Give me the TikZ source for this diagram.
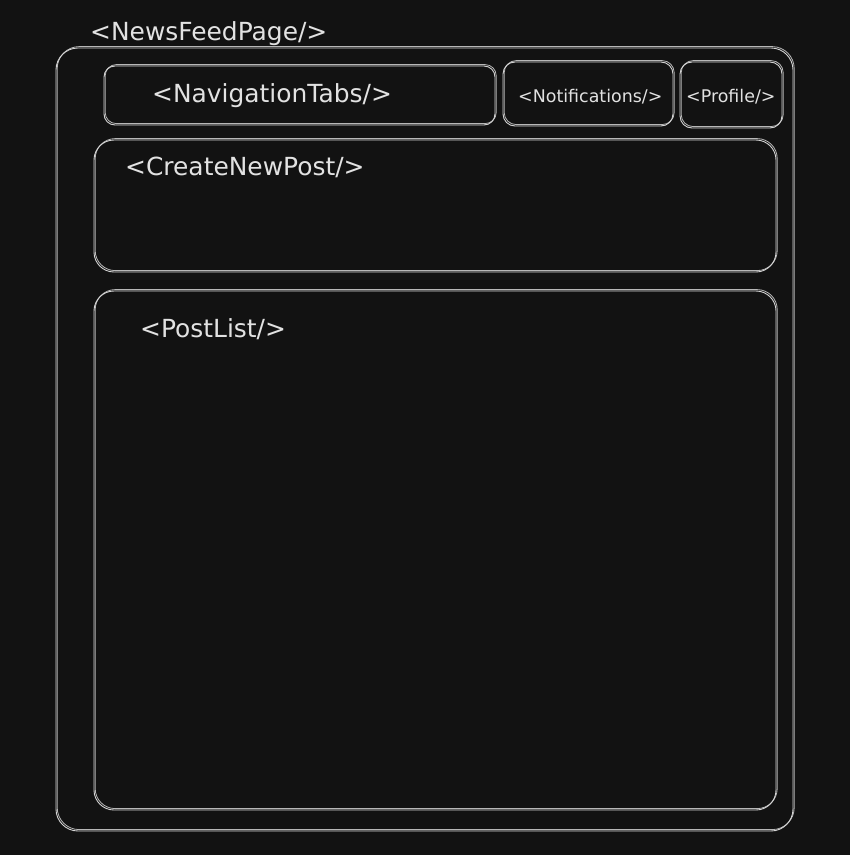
\documentclass[tikz,border=0pt]{standalone}
\usepackage{fontspec}
\setmainfont{DejaVu Sans}
\usepackage{tikz}
\usetikzlibrary{positioning}
\definecolor{bgc}{HTML}{121212}
\definecolor{linec}{HTML}{D4D4D4}
\definecolor{textc}{HTML}{E2E2E2}
\tikzset{
  frame/.style={rectangle,draw=linec,line width=0.9bp,inner sep=0,outer sep=0,rounded corners=#1,
    preaction={draw=linec!85!bgc,line width=0.8bp,transform canvas={shift={(1.2bp,1.4bp)}}}},
  frame/.default=14bp,
  tag/.style={text=textc,font=\fontsize{25}{28}\selectfont,inner sep=0,anchor=west},
  smalltag/.style={tag,font=\fontsize{17.5}{20}\selectfont}
}

\begin{document}
\begin{tikzpicture}[x=1bp,y=-1bp]
    \fill[bgc] (0,0) rectangle (850,855);
    \useasboundingbox (0,0) rectangle (850,855);

    \node[frame=22bp,minimum width=737bp,minimum height=783bp] (feed) at (424.5,439.5) {};
    \node[frame=11bp,minimum width=391bp,minimum height=59bp] (tabs) at (299.5,95.5) {};
    \node[frame=12bp,minimum width=170bp,minimum height=64bp] (notif) at (588,94) {};
    \node[frame=12bp,minimum width=102bp,minimum height=66bp] (profile) at (731,95) {};
    \node[frame=20bp,minimum width=682bp,minimum height=132bp] (create) at (435,206) {};
    \node[frame=20bp,minimum width=682bp,minimum height=519bp] (posts) at (435,550.5) {};

    \node[tag] (feedtag) at (90,34) {<NewsFeedPage/>};
    \node[tag,right=48bp of tabs.west] (tabstag) {<NavigationTabs/>};
    \node[smalltag,right=15bp of notif.west,yshift=-3bp] (notiftag) {<Notifications/>};
    \node[smalltag,right=6bp of profile.west,yshift=-1.5bp] (profiletag) {<Profile/>};
    \node[tag] (createtag) at (125,167) {<CreateNewPost/>};
    \node[tag] (poststag) at (140,329) {<PostList/>};
\end{tikzpicture}
\end{document}
